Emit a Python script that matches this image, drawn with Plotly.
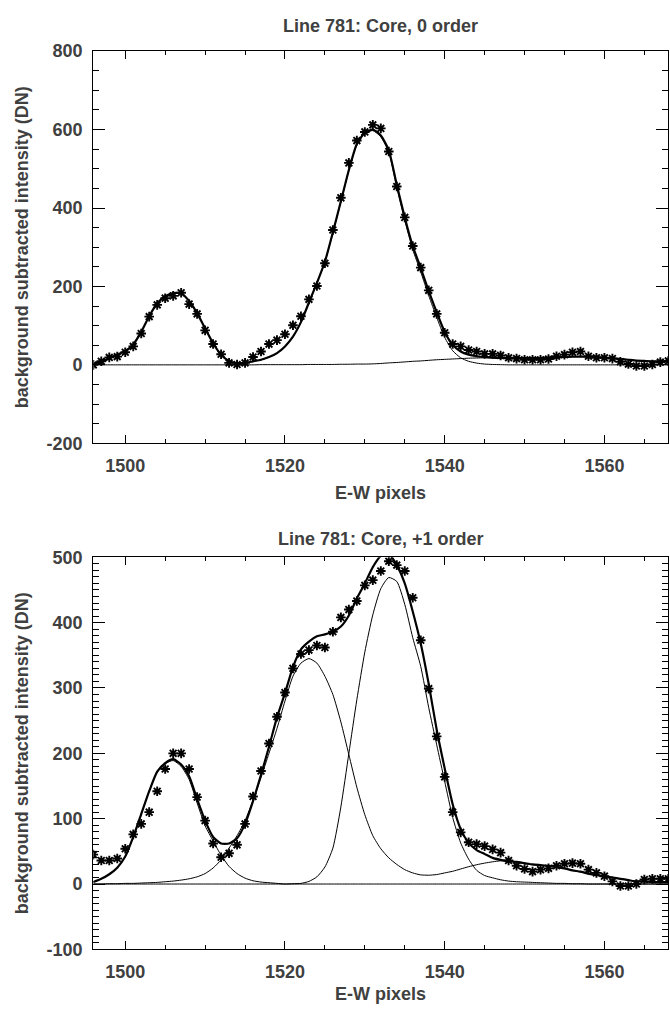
import plotly.graph_objects as go

# ---------------- data ----------------
pixels = list(range(1496, 1569))

# Top panel: Line 781 Core, 0 order
top_data = [0, 9, 19, 21, 32, 47, 80, 123, 153, 170,
            176, 184, 155, 130, 88, 53, 27, 5, 1, 5,
            20, 34, 53, 63, 78, 101, 124, 167, 201, 259,
            344, 426, 515, 572, 594, 612, 603, 544, 455, 376,
            303, 248, 190, 130, 82, 53, 47, 38, 34, 28,
            28, 24, 18, 16, 13, 13, 13, 15, 22, 26,
            32, 34, 22, 18, 18, 16, 8, 2, -3, -3,
            1, 7, 10]
top_fit = [1, 9, 17, 26, 35, 52, 84, 124, 157, 175,
           183, 182, 163, 132, 93, 55, 26, 10, 4, 5,
           9, 13, 20, 30, 47, 72, 109, 159, 209, 263,
           338, 417, 497, 563, 592, 600, 585, 547, 459, 376,
           303, 247, 188, 134, 84, 51, 34, 26, 22, 20,
           18.5, 17.5, 17, 17, 17, 17, 17.5, 18, 19, 20,
           21, 21, 21, 20, 18, 17, 15, 13, 11, 10,
           9, 9, 9]
top_comp_peaks = [1, 9, 17, 26, 35, 52, 84, 124, 157, 175,
                  183, 182, 163, 132, 93, 55, 26, 10, 4, 5,
                  9, 12.5, 19.5, 29.5, 46.5, 71.5, 108.5, 158, 208, 262,
                  337, 415.5, 495.5, 561, 590, 597.5, 581.5, 542, 453, 368.5,
                  294, 237, 176.5, 121, 70, 36, 18, 9, 4.5, 2,
                  1, 0.5, 0, 0, 0, 0, 0, 0, 0, 0,
                  0, 0, 0, 0, 0, 0, 0, 0, 0, 0,
                  0, 0, 0]
top_comp_broad = [0, 0, 0, 0, 0, 0, 0, 0, 0, 0,
                  0, 0, 0, 0, 0, 0, 0, 0, 0, 0,
                  0, 0.5, 0.5, 0.5, 0.5, 0.5, 0.5, 1, 1, 1,
                  1, 1.5, 1.5, 2, 2, 2.5, 3.5, 5, 6, 7.5,
                  9, 10, 11.5, 13, 14, 15, 16, 17, 17.5, 18,
                  18, 17.5, 17, 17, 17, 17, 17.5, 18, 19, 20,
                  21, 21, 21, 20, 18, 17, 15, 13, 11, 10,
                  9, 9, 9]

# Bottom panel: Line 781 Core, +1 order
bot_data = [45, 36, 36, 39, 54, 76, 92, 110, 142, 176,
            200, 200, 176, 133, 97, 62, 41, 47, 60, 92,
            134, 173, 215, 256, 293, 330, 352, 358, 365, 362,
            386, 408, 420, 433, 457, 465, 479, 494, 488, 479,
            438, 373, 299, 226, 164, 110, 79, 64, 61, 58,
            53, 48, 36, 28, 23, 19, 22, 24, 28, 31,
            32, 31, 22, 17, 12, 4, -3, -3, 0, 7,
            8, 8, 8]
bot_fit = [3, 8, 15, 25, 42, 72, 107, 142, 172, 185,
           191, 183, 165, 130, 97, 72, 62, 62, 70, 92,
           127, 167, 210, 255, 292, 332, 359, 371, 379, 382,
           386, 394, 411, 437, 460, 485, 502, 505, 488, 460,
           417, 368, 306, 236, 177, 122, 84, 63, 52, 46,
           40, 37, 35, 34, 32, 30, 29, 28, 26, 24,
           21, 19, 16, 14, 12, 10, 8, 6, 4, 4,
           3, 3, 3]
bot_comp_left = [3, 8, 15, 25, 42, 72, 107, 142, 171, 184,
                 189, 180, 160, 124, 89, 66, 44, 27, 16, 9,
                 5, 3, 2, 1, 0, 0, 0, 0, 0, 0,
                 0, 0, 0, 0, 0, 0, 0, 0, 0, 0,
                 0, 0, 0, 0, 0, 0, 0, 0, 0, 0,
                 0, 0, 0, 0, 0, 0, 0, 0, 0, 0,
                 0, 0, 0, 0, 0, 0, 0, 0, 0, 0,
                 0, 0, 0]
bot_comp_mid = [0, 0, 0.5, 0.5, 1, 1, 1.5, 2, 2.5, 3.5,
                4.5, 6, 8, 11, 16, 24.5, 37, 55, 74, 97,
                128, 163, 200, 238, 280, 318, 338, 345, 338, 318,
                290, 248, 198, 148, 106, 74, 54, 40, 30, 22,
                17, 14, 13.5, 14.5, 17, 19.5, 23, 26.5, 29.5, 32,
                34, 35.5, 35, 33, 31, 29.5, 28.5, 27.5, 25.5, 23.5,
                21, 18.5, 16, 14, 12, 10, 8, 6, 4.5, 3.5,
                3, 3, 3]
bot_comp_main = [0, 0, 0, 0, 0, 0, 0, 0, 0, 0,
                 0, 0, 0, 0, 0, 0, 0, 0, 0, 0,
                 0, 0, 0, 0, 0, 0.5, 1, 4, 11, 26,
                 55, 118, 200, 282, 355, 412, 452, 469, 463, 428,
                 377, 333, 270, 213, 157, 102, 63, 38, 21, 13,
                 9.5, 6.5, 4.5, 3.5, 3, 2.5, 2, 1.5, 1, 1,
                 0.5, 0.5, 0, 0, 0, 0, 0, 0, 0, 0,
                 0, 0, 0]

top_title = "Line 781: Core, 0 order"
bot_title = "Line 781: Core, +1 order"
x_title = "E-W pixels"
y_title = "background subtracted intensity (DN)"

x_tickvals = [1500, 1520, 1540, 1560]
top_y_tickvals = [-200, 0, 200, 400, 600, 800]
bot_y_tickvals = [-100, 0, 100, 200, 300, 400, 500]

# ---------------- figure ----------------
W, H = 670, 1013
TXT = "#404040"
FONT = dict(family="Liberation Sans, Arial, sans-serif", size=18, color=TXT, weight="bold")

x0, x1 = 93.3, 668.3
top_t, top_b = 42.0, 442.0
bot_t, bot_b = 558.3, 958.3


def px_x(p):
    return p / W


def px_y(p):
    return 1 - p / H


fig = go.Figure()


def add_panel(xa, ya, data, fit, comps):
    for c in comps:
        fig.add_trace(go.Scatter(x=pixels, y=c, mode="lines", xaxis=xa, yaxis=ya,
                                 line=dict(color="black", width=1, shape="spline", smoothing=0.6),
                                 hoverinfo="skip"))
    fig.add_trace(go.Scatter(x=pixels, y=fit, mode="lines", xaxis=xa, yaxis=ya,
                             line=dict(color="black", width=2.2, shape="spline", smoothing=0.6),
                             hoverinfo="skip"))
    fig.add_trace(go.Scatter(x=pixels, y=data, mode="markers", xaxis=xa, yaxis=ya,
                             marker=dict(symbol="asterisk", size=8, color="black",
                                         line=dict(color="black", width=1.9))))


add_panel("x", "y", top_data, top_fit, [top_comp_peaks, top_comp_broad])
add_panel("x2", "y2", bot_data, bot_fit, [bot_comp_left, bot_comp_mid, bot_comp_main])

common_axis = dict(showline=True, linecolor="black", linewidth=1.2, mirror="ticks",
                   ticks="inside", tickcolor="black", tickwidth=1,
                   showgrid=False, zeroline=False, tickfont=FONT)

xdom = [px_x(x0), px_x(x1)]
xcommon = dict(common_axis, range=[1496, 1568], tickvals=x_tickvals,
               ticktext=[str(v) for v in x_tickvals], ticklen=8,
               minor=dict(dtick=5, tick0=0, ticklen=4, ticks="inside", tickcolor="black", tickwidth=1),
               ticklabelstandoff=6, domain=xdom)

fig.update_layout(
    width=W, height=H,
    margin=dict(l=0, r=0, t=0, b=0),
    paper_bgcolor="white", plot_bgcolor="white",
    showlegend=False,
    xaxis=dict(xcommon, anchor="y"),
    xaxis2=dict(xcommon, anchor="y2"),
    yaxis=dict(common_axis, range=[-200, 800], tickvals=top_y_tickvals,
               ticktext=[str(v) for v in top_y_tickvals], ticklen=12,
               minor=dict(dtick=50, tick0=0, ticklen=6, ticks="inside", tickcolor="black", tickwidth=1),
               ticklabelstandoff=6, domain=[px_y(top_b), px_y(top_t)], anchor="x"),
    yaxis2=dict(common_axis, range=[-100, 500], tickvals=bot_y_tickvals,
                ticktext=[str(v) for v in bot_y_tickvals], ticklen=12,
                minor=dict(dtick=10, tick0=0, ticklen=6, ticks="inside", tickcolor="black", tickwidth=1),
                ticklabelstandoff=6, domain=[px_y(bot_b), px_y(bot_t)], anchor="x2"),
)

xc = px_x((x0 + x1) / 2)
ann = [
    dict(text=top_title, x=xc, y=px_y(16), xanchor="center", yanchor="middle"),
    dict(text=bot_title, x=xc, y=px_y(540), xanchor="center", yanchor="middle"),
    dict(text=x_title, x=xc, y=px_y(493), xanchor="center", yanchor="middle"),
    dict(text=x_title, x=xc, y=px_y(1004), xanchor="center", yanchor="middle"),
    dict(text=y_title, x=px_x(22), y=px_y((top_t + top_b) / 2), xanchor="center", yanchor="middle", textangle=-90),
    dict(text=y_title, x=px_x(22), y=px_y((bot_t + bot_b) / 2), xanchor="center", yanchor="middle", textangle=-90),
]
fig.update_layout(annotations=[dict(a, xref="paper", yref="paper", showarrow=False, font=FONT) for a in ann])

fig.write_html("out.html",
               config={"displayModeBar": False},
               post_script="document.body.style.margin='0';document.body.style.padding='0';")
